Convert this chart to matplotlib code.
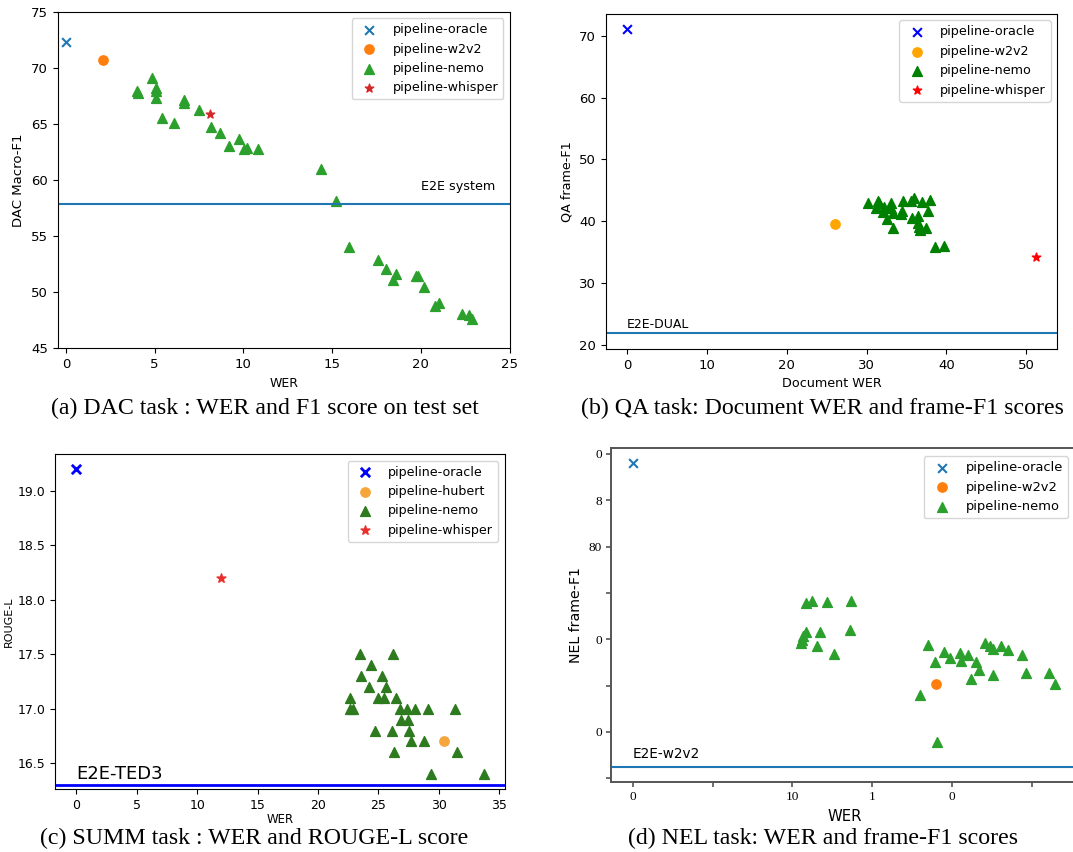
import numpy as np
import matplotlib
matplotlib.use("Agg")
import matplotlib.pyplot as plt

# ---- (a) DAC task ----
dac_oracle = (0.0, 72.3)
dac_w2v2 = (2.1, 70.7)
dac_whisper = (8.1, 65.85)
dac_nemo_wer = [4.84, 4.0, 4.07, 5.1, 5.1, 5.06, 5.41, 6.07, 6.63, 6.68, 7.5, 8.17,
                8.66, 9.18, 9.73, 10.03, 10.19, 10.85, 14.38, 15.23, 15.94, 17.61,
                18.05, 18.45, 18.62, 19.7, 19.86, 20.18, 20.77, 21.04, 22.3, 22.73, 22.89]
dac_nemo_f1 = [69.06, 67.93, 67.75, 68.2, 67.9, 67.3, 65.5, 65.1, 67.1, 66.9, 66.2, 64.75,
               64.16, 63.03, 63.68, 62.76, 62.82, 62.8, 60.98, 58.13, 54.0, 52.84,
               52.07, 51.1, 51.6, 51.45, 51.4, 50.5, 48.75, 49.07, 48.06, 47.94, 47.6]
dac_e2e = 57.9

# ---- (b) QA task ----
qa_oracle = (0.0, 71.1)
qa_w2v2 = (26.0, 39.6)
qa_whisper = (51.2, 34.3)
qa_nemo_wer = [30.15, 31.13, 31.47, 31.6, 32.0, 32.2, 32.6, 33.0, 33.1, 33.3, 33.3, 34.3,
               34.6, 34.5, 35.6, 36.0, 35.7, 36.45, 36.4, 36.67, 37.0, 37.5, 37.7, 37.94,
               38.6, 39.65, 36.6]
qa_nemo_f1 = [42.95, 42.1, 43.3, 43.0, 41.55, 42.25, 40.4, 43.0, 42.1, 38.85, 41.3, 41.1,
              43.3, 41.7, 43.3, 43.7, 40.5, 40.85, 39.75, 38.6, 43.1, 38.85, 41.65, 43.5,
              35.8, 36.0, 39.1]
qa_e2e = 21.9

# ---- (c) SUMM task ----
summ_oracle = (0.0, 19.2)
summ_hubert = (30.4, 16.7)
summ_whisper = (12.0, 18.2)
summ_nemo_wer = [23.45, 26.2, 24.43, 23.53, 25.32, 24.2, 25.66, 22.69, 25.0, 25.5, 26.5,
                 22.69, 22.9, 26.8, 27.36, 28.06, 29.1, 31.34, 26.9, 27.45, 24.7, 26.13,
                 27.5, 27.73, 28.76, 26.3, 31.48, 29.38, 33.74]
summ_nemo_rouge = [17.5, 17.5, 17.4, 17.3, 17.3, 17.2, 17.2, 17.1, 17.1, 17.1, 17.1,
                   17.0, 17.0, 17.0, 17.0, 17.0, 17.0, 17.0, 16.9, 16.9, 16.8, 16.8,
                   16.8, 16.7, 16.7, 16.6, 16.6, 16.4, 16.4]
summ_e2e = 16.3

# ---- (d) NEL task ----
nel_oracle = (0.0, 98.0)
nel_w2v2 = (19.0, 50.3)
nel_nemo_wer = [10.84, 11.22, 12.18, 13.67, 10.52, 10.58, 10.69, 10.86, 11.73, 11.56, 12.59,
                13.59, 17.97, 18.53, 18.91, 19.04, 19.48, 19.85, 20.49, 20.59, 21.0, 21.17,
                21.53, 21.7, 22.06, 22.4, 22.6, 22.6, 23.05, 23.53, 24.36, 24.62, 26.07, 26.45]
nel_nemo_f1 = [67.75, 68.3, 68.0, 68.25, 59.1, 59.8, 60.7, 61.5, 61.5, 58.6, 56.8,
               61.9, 47.9, 58.7, 55.1, 37.9, 57.2, 55.9, 57.1, 55.3, 56.6, 51.5,
               55.1, 53.4, 59.2, 58.6, 57.9, 52.3, 58.6, 57.7, 56.6, 52.8, 52.8, 50.3]
nel_e2e = 32.5
nel_xticks = [0, 5, 10, 15, 20, 25]
nel_xticklabels = ["0", "", "10", "1", "0", ""]
nel_yticks = [100, 90, 80, 70, 60, 50, 40, 30]
nel_yticklabels = ["0", "8", "80", "", "0", "", "0", ""]

W, H = 1073, 852
fig = plt.figure(figsize=(W / 100, H / 100), dpi=100)


def px_axes(left, top, right, bottom):
    return fig.add_axes([left / W, 1 - bottom / H, (right - left) / W, (bottom - top) / H])


# (a)
ax = px_axes(57.5, 11.7, 509.7, 348.3)
ax.scatter(*dac_oracle, marker="x", color="C0", s=40, label="pipeline-oracle")
ax.scatter(*dac_w2v2, marker="o", color="C1", s=45, label="pipeline-w2v2")
ax.scatter(dac_nemo_wer, dac_nemo_f1, marker="^", color="C2", s=50, label="pipeline-nemo")
ax.scatter(*dac_whisper, marker="*", color="C3", s=40, label="pipeline-whisper")
ax.axhline(dac_e2e, color="C0", lw=1.5)
ax.text(20.0, dac_e2e + 0.9, "E2E system", fontsize=9.2, va="bottom")
ax.set_xlim(-0.47, 25)
ax.set_ylim(45, 75)
ax.set_xticks([0, 5, 10, 15, 20, 25])
ax.tick_params(labelsize=9.5)
ax.set_xlabel("WER", fontsize=9)
ax.set_ylabel("DAC Macro-F1", fontsize=9.5)
ax.legend(loc="upper right", fontsize=9.2)

# (b)
ax = px_axes(605.6, 14, 1057.4, 349)
ax.scatter(*qa_oracle, marker="x", color="blue", s=40, label="pipeline-oracle")
ax.scatter(*qa_w2v2, marker="o", color="orange", s=45, label="pipeline-w2v2")
ax.scatter(qa_nemo_wer, qa_nemo_f1, marker="^", color="green", s=50, label="pipeline-nemo")
ax.scatter(*qa_whisper, marker="*", color="red", s=40, label="pipeline-whisper")
ax.axhline(qa_e2e, color="C0", lw=1.5)
ax.text(0, qa_e2e + 0.4, "E2E-DUAL", fontsize=9, va="bottom")
ax.set_xlim(-2.68, 53.9)
ax.set_ylim(19.35, 73.5)
ax.set_xticks([0, 10, 20, 30, 40, 50])
ax.set_yticks([20, 30, 40, 50, 60, 70])
ax.tick_params(labelsize=9.5)
ax.set_xlabel("Document WER", fontsize=9.2)
ax.set_ylabel("QA frame-F1", fontsize=9.2)
ax.legend(loc="upper right", fontsize=9.2)

# (c)
ax = px_axes(55.1, 454.3, 504.6, 789.3)
ax.scatter(*summ_oracle, marker="x", color="blue", s=45, linewidths=2, label="pipeline-oracle")
ax.scatter(*summ_hubert, marker="o", color="#f5a53a", s=45, label="pipeline-hubert")
ax.scatter(summ_nemo_wer, summ_nemo_rouge, marker="^", color="#2e7a1f", s=50, label="pipeline-nemo")
ax.scatter(*summ_whisper, marker="*", color="#e8302a", s=45, label="pipeline-whisper")
ax.axhline(summ_e2e, color="blue", lw=2)
ax.text(0, summ_e2e + 0.02, "E2E-TED3", fontsize=13, va="bottom")
ax.set_xlim(-1.76, 35.45)
ax.set_ylim(16.26, 19.337)
ax.set_xticks([0, 5, 10, 15, 20, 25, 30, 35])
ax.set_yticks([16.5, 17.0, 17.5, 18.0, 18.5, 19.0])
ax.tick_params(labelsize=9)
ax.set_xlabel("WER", fontsize=8.5, labelpad=1)
ax.set_ylabel("ROUGE-L", fontsize=8, labelpad=2.5)
ax.legend(loc="upper right", fontsize=9.1)

# (d)
d_left, d_right = 611.4, 1078
ax = px_axes(d_left, 448.3, d_right, 781.7)
ax.scatter(*nel_oracle, marker="x", color="C0", s=40, label="pipeline-oracle")
ax.scatter(*nel_w2v2, marker="o", color="C1", s=45, label="pipeline-w2v2")
ax.scatter(nel_nemo_wer, nel_nemo_f1, marker="^", color="C2", s=50, label="pipeline-nemo")
ax.axhline(nel_e2e, color="C0", lw=1.5)
ax.text(0, nel_e2e + 1.2, "E2E-w2v2", fontsize=9.8, va="bottom")
ax.set_xlim(-1.34, 27.9)
ax.set_ylim(29.23, 101.22)
ax.set_xticks(nel_xticks)
ax.set_xticklabels(nel_xticklabels, family="Liberation Serif", fontsize=9.5)
ax.set_yticks(nel_yticks)
ax.set_yticklabels(nel_yticklabels, family="Liberation Serif", fontsize=9.5)
for sp in ax.spines.values():
    sp.set_color("#555555")
    sp.set_linewidth(1.4)
ax.tick_params(color="#555555", width=1.2)
ax.set_xlabel("WER", fontsize=10.7)
ax.set_ylabel("NEL frame-F1", fontsize=10.2)
ax.legend(loc="upper right", fontsize=9.4, borderaxespad=0,
          bbox_to_anchor=((1068 - d_left) / (d_right - d_left), 0.977))

captions = [
    (265, 408, "(a) DAC task : WER and F1 score on test set"),
    (822, 408, "(b) QA task: Document WER and frame-F1 scores"),
    (254.5, 838, "(c) SUMM task : WER and ROUGE-L score"),
    (823.5, 838, "(d) NEL task: WER and frame-F1 scores"),
]
for x, y, t in captions:
    fig.text(x / W, 1 - y / H, t, ha="center", va="center", family="Liberation Serif", fontsize=17.2)

fig.savefig("out.png", dpi=100)
